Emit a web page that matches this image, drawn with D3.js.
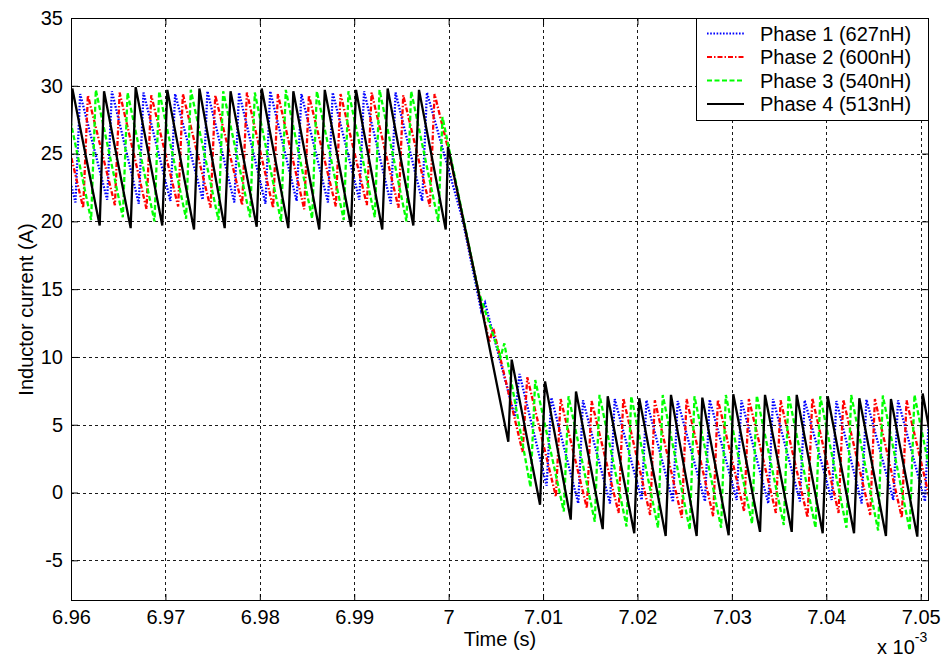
<!DOCTYPE html>
<html>
<head>
<meta charset="utf-8">
<script src="https://cdn.jsdelivr.net/npm/d3@7/dist/d3.min.js"></script>
<style>
  html, body { margin: 0; padding: 0; background: #fff; }
  svg { display: block; }
  text { font-family: "Liberation Sans", Arial, sans-serif; fill: #000; }
</style>
</head>
<body>
<svg id="chart" width="944" height="658"></svg>
<script>
// Inductor currents of a four-phase converter around a load step (time in microseconds, current in A)
const phase1 = [
  [6957.13,21.5],[6957.63,29.5],[6960.47,21.4],[6960.97,29.4],[6963.83,21.6],[6964.33,29.6],
  [6967.18,21.3],[6967.68,29.5],[6970.53,21.5],[6971.03,29.4],[6973.95,21.6],[6974.45,29.6],
  [6977.30,21.4],[6977.80,29.5],[6980.60,21.3],[6981.10,29.6],[6983.90,21.5],[6984.40,29.4],
  [6987.22,21.4],[6987.72,29.5],[6990.54,21.6],[6991.04,29.6],[6993.88,21.3],[6994.38,29.5],
  [6997.20,21.5],[6997.70,29.5],[7001.45,20.2],[7003.45,13.4],[7003.85,14.0],[7007.00,5.6],
  [7007.51,8.75],[7010.38,0.5],[7010.88,7.0],[7013.73,-0.8],[7014.23,6.8],[7017.09,-0.8],
  [7017.59,6.9],[7020.45,-0.55],[7020.95,6.8],[7023.76,-0.7],[7024.26,6.75],[7027.15,-0.65],
  [7027.65,6.85],[7030.51,-0.55],[7031.01,6.8],[7033.86,-0.8],[7034.36,6.9],[7037.21,-0.65],
  [7037.71,6.8],[7040.57,-0.55],[7041.07,6.75],[7043.75,-0.8],[7044.25,6.85],[7047.10,-0.55],
  [7047.60,6.8],[7050.45,-0.65],[7050.95,6.8]
];
const phase2 = [
  [6957.95,21.1],[6958.45,29.4],[6961.29,21.0],[6961.79,29.3],[6964.65,21.2],[6965.15,29.5],
  [6968.00,20.9],[6968.50,29.3],[6971.35,21.1],[6971.85,29.4],[6974.78,21.0],[6975.28,29.3],
  [6978.13,21.2],[6978.63,29.5],[6981.41,21.0],[6981.91,29.4],[6984.70,20.9],[6985.20,29.3],
  [6988.05,21.1],[6988.55,29.4],[6991.34,21.2],[6991.84,29.5],[6994.69,21.0],[6995.19,29.3],
  [6998.01,21.1],[6998.51,29.4],[7000.00,25.2],[7003.10,15.0],[7004.30,11.1],[7004.73,12.1],
  [7007.83,3.0],[7008.33,8.5],[7011.36,-0.3],[7011.86,6.9],[7014.64,-1.15],[7015.14,6.75],
  [7018.00,-1.5],[7018.50,6.95],[7021.34,-1.65],[7021.84,6.8],[7024.70,-1.85],[7025.20,6.9],
  [7028.02,-1.75],[7028.52,6.85],[7031.30,-1.4],[7031.80,6.9],[7034.66,-1.5],[7035.16,6.8],
  [7038.02,-1.85],[7038.52,6.95],[7041.30,-1.5],[7041.80,6.85],[7044.65,-1.65],[7045.15,6.9],
  [7048.00,-1.85],[7048.50,6.8],[7051.34,-1.6]
];
const phase3 = [
  [6958.79,20.2],[6959.29,29.6],[6962.13,20.1],[6962.63,29.7],[6965.49,20.3],[6965.99,29.5],
  [6968.84,20.0],[6969.34,29.6],[6972.19,20.2],[6972.69,29.7],[6975.62,20.1],[6976.12,29.6],
  [6978.97,20.3],[6979.47,29.5],[6982.25,20.0],[6982.75,29.7],[6985.54,20.2],[6986.04,29.6],
  [6988.89,20.1],[6989.39,29.6],[6992.18,20.3],[6992.68,29.7],[6995.53,20.0],[6996.03,29.6],
  [6998.90,20.0],[6999.35,27.7],[7003.10,15.0],[7005.50,10.0],[7005.90,11.0],[7008.67,0.4],
  [7009.17,8.3],[7012.20,-1.4],[7012.70,7.1],[7015.48,-2.15],[7015.98,7.2],[7018.84,-2.5],
  [7019.34,7.1],[7022.18,-2.6],[7022.68,7.2],[7025.54,-2.75],[7026.04,7.1],[7028.86,-2.6],
  [7029.36,7.2],[7032.14,-2.3],[7032.64,7.15],[7035.50,-2.4],[7036.00,7.2],[7038.86,-2.6],
  [7039.36,7.1],[7042.14,-2.6],[7042.64,7.2],[7045.49,-2.8],[7045.99,7.15],[7048.84,-2.8],
  [7049.34,7.2],[7052.20,-2.7]
];
const phase4 = [
  [6959.65,19.6],[6960.14,29.8],[6963.04,19.7],[6963.50,29.6],[6966.32,19.5],[6966.85,29.9],
  [6969.67,19.7],[6970.20,29.7],[6973.03,19.4],[6973.60,29.8],[6976.28,19.5],[6976.90,29.6],
  [6979.67,19.6],[6980.20,29.8],[6983.02,19.5],[6983.55,29.6],[6986.30,19.4],[6986.88,29.7],
  [6989.66,19.6],[6990.19,29.7],[6992.97,19.4],[6993.54,29.8],[6996.26,19.7],[6996.86,29.7],
  [6999.69,19.4],[6999.93,25.5],[7003.10,15.0],[7006.32,3.75],[7006.68,9.8],[7009.68,-0.9],
  [7010.21,8.2],[7012.93,-2.0],[7013.49,7.45],[7016.32,-2.7],[7016.85,7.1],[7019.66,-3.0],
  [7020.19,6.95],[7022.99,-3.2],[7023.55,7.2],[7026.27,-3.2],[7026.87,7.0],[7029.66,-3.15],
  [7030.15,7.25],[7032.98,-2.9],[7033.51,7.2],[7036.34,-2.9],[7036.87,7.2],[7039.62,-3.0],
  [7040.15,7.1],[7042.94,-3.0],[7043.50,6.95],[7046.32,-3.2],[7046.85,6.9],[7049.64,-3.25],
  [7050.21,7.3],[7052.95,-3.1]
];

const seriesNames = ["Phase 1 (627nH)", "Phase 2 (600nH)", "Phase 3 (540nH)", "Phase 4 (513nH)"];
const xTickValues = [6.96, 6.97, 6.98, 6.99, 7.00, 7.01, 7.02, 7.03, 7.04, 7.05];
const xTickLabels = ["6.96", "6.97", "6.98", "6.99", "7", "7.01", "7.02", "7.03", "7.04", "7.05"];
const yTickValues = [-5, 0, 5, 10, 15, 20, 25, 30, 35];
const yTickLabels = ["-5", "0", "5", "10", "15", "20", "25", "30", "35"];
const xDomain = [6.96, 7.05088];   // ms
const yDomain = [-8, 35];          // A

const styles = [
  { color: "#0000ff", dash: "1.6,1.6" },
  { color: "#ff0000", dash: "5,2,1.5,2" },
  { color: "#00ff00", dash: "5,2.5" },
  { color: "#000000", dash: null }
];

const svg = d3.select("#chart");
const plot = { left: 71, right: 929, top: 18, bottom: 601 };

const x = d3.scaleLinear().domain(xDomain).range([plot.left, plot.right]);
const y = d3.scaleLinear().domain(yDomain).range([plot.bottom, plot.top]);

svg.append("rect").attr("width", 944).attr("height", 658).attr("fill", "#fff");

// grid
const grid = svg.append("g").attr("stroke", "#1a1a1a").attr("stroke-width", 1)
  .attr("stroke-dasharray", "3,3").attr("fill", "none");
grid.selectAll("line.gx").data(xTickValues).join("line").attr("class", "gx")
  .attr("x1", d => Math.round(x(d)) + 0.5).attr("x2", d => Math.round(x(d)) + 0.5)
  .attr("y1", plot.top).attr("y2", plot.bottom);
grid.selectAll("line.gy").data(yTickValues).join("line").attr("class", "gy")
  .attr("y1", d => Math.round(y(d)) + 0.5).attr("y2", d => Math.round(y(d)) + 0.5)
  .attr("x1", plot.left).attr("x2", plot.right);

// traces
svg.append("clipPath").attr("id", "plotclip").append("rect")
  .attr("x", plot.left).attr("y", plot.top)
  .attr("width", plot.right - plot.left).attr("height", plot.bottom - plot.top);

const line = d3.line().x(d => x(d[0] / 1000)).y(d => y(d[1]));
const traces = svg.append("g").attr("clip-path", "url(#plotclip)");
[phase1, phase2, phase3, phase4].forEach((data, i) => {
  traces.append("path")
    .datum(data)
    .attr("d", line)
    .attr("fill", "none")
    .attr("stroke", styles[i].color)
    .attr("stroke-width", 2.3)
    .attr("stroke-linejoin", "miter")
    .attr("stroke-dasharray", styles[i].dash);
});

// axes with inward ticks on all four sides
const fontSize = 20;
const axB = svg.append("g").attr("transform", `translate(0,${plot.bottom})`)
  .call(d3.axisBottom(x).tickValues(xTickValues)
    .tickFormat((d, i) => xTickLabels[i]).tickSizeInner(-7).tickSizeOuter(0).tickPadding(9));
const axT = svg.append("g").attr("transform", `translate(0,${plot.top})`)
  .call(d3.axisTop(x).tickValues(xTickValues).tickFormat("").tickSizeInner(-7).tickSizeOuter(0));
const axL = svg.append("g").attr("transform", `translate(${plot.left},0)`)
  .call(d3.axisLeft(y).tickValues(yTickValues).tickFormat((d, i) => yTickLabels[i])
    .tickSizeInner(-7).tickSizeOuter(0).tickPadding(8));
const axR = svg.append("g").attr("transform", `translate(${plot.right},0)`)
  .call(d3.axisRight(y).tickValues(yTickValues).tickFormat("").tickSizeInner(-7).tickSizeOuter(0));
[axB, axT, axL, axR].forEach(g => {
  g.select(".domain").remove();
  g.selectAll("line").attr("stroke", "#000");
  g.selectAll("text").attr("font-size", fontSize).attr("font-family", "Liberation Sans, Arial, sans-serif").attr("fill", "#000");
});

svg.append("rect").attr("x", plot.left + 0.5).attr("y", plot.top + 0.5)
  .attr("width", plot.right - plot.left - 1).attr("height", plot.bottom - plot.top - 1)
  .attr("fill", "none").attr("stroke", "#000").attr("stroke-width", 1);

// axis labels
svg.append("text").attr("x", (plot.left + plot.right) / 2).attr("y", 646)
  .attr("text-anchor", "middle").attr("font-size", fontSize).text("Time (s)");
svg.append("text").attr("transform", `translate(33,${(plot.top + plot.bottom) / 2}) rotate(-90)`)
  .attr("text-anchor", "middle").attr("font-size", fontSize).text("Inductor current (A)");
const mult = svg.append("text").attr("x", 877).attr("y", 654).attr("font-size", fontSize);
mult.append("tspan").text("x 10");
mult.append("tspan").attr("font-size", 14).attr("dy", -12).text("-3");

// legend
const lg = svg.append("g");
lg.append("rect").attr("x", 696.5).attr("y", plot.top + 0.5).attr("width", plot.right - 697)
  .attr("height", 102).attr("fill", "#fff").attr("stroke", "#000");
seriesNames.forEach((name, i) => {
  const base = 40.7 + i * 23.5;
  lg.append("line").attr("x1", 707).attr("x2", 744)
    .attr("y1", base - 7.3).attr("y2", base - 7.3)
    .attr("stroke", styles[i].color).attr("stroke-width", 2)
    .attr("stroke-dasharray", styles[i].dash);
  lg.append("text").attr("x", 760).attr("y", base).attr("font-size", fontSize).text(name);
});
</script>
</body>
</html>
